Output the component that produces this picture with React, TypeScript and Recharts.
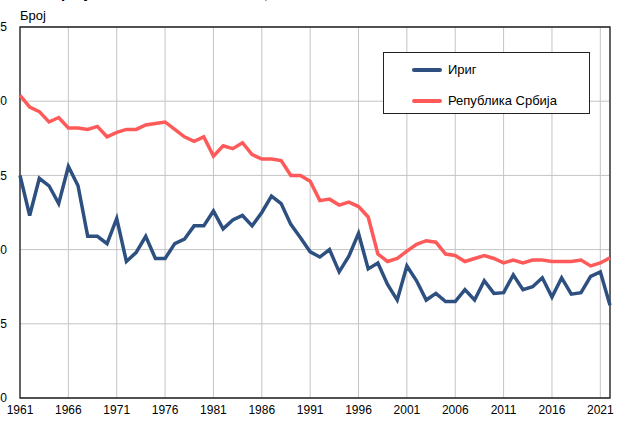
import React from 'react';
import { LineChart, Line, XAxis, YAxis, CartesianGrid, ReferenceArea } from 'recharts';

// years 1961-2022
const years = [
  1961, 1962, 1963, 1964, 1965, 1966, 1967, 1968, 1969, 1970,
  1971, 1972, 1973, 1974, 1975, 1976, 1977, 1978, 1979, 1980,
  1981, 1982, 1983, 1984, 1985, 1986, 1987, 1988, 1989, 1990,
  1991, 1992, 1993, 1994, 1995, 1996, 1997, 1998, 1999, 2000,
  2001, 2002, 2003, 2004, 2005, 2006, 2007, 2008, 2009, 2010,
  2011, 2012, 2013, 2014, 2015, 2016, 2017, 2018, 2019, 2020,
  2021, 2022,
];

const irig = [
  15.0, 12.3, 14.8, 14.3, 13.1, 15.6, 14.3, 10.9, 10.9, 10.4,
  12.1, 9.2, 9.8, 10.9, 9.4, 9.4, 10.4, 10.7, 11.6, 11.6,
  12.6, 11.4, 12.0, 12.3, 11.6, 12.5, 13.6, 13.1, 11.7, 10.8,
  9.85, 9.5, 10.0, 8.5, 9.55, 11.1, 8.7, 9.1, 7.65, 6.6,
  8.9, 7.9, 6.6, 7.05, 6.5, 6.5, 7.3, 6.6, 7.9, 7.05,
  7.1, 8.3, 7.3, 7.5, 8.1, 6.8, 8.1, 7.0, 7.1, 8.2,
  8.5, 6.25,
];

const srbija = [
  20.4, 19.6, 19.3, 18.6, 18.9, 18.2, 18.2, 18.1, 18.3, 17.6,
  17.9, 18.1, 18.1, 18.4, 18.5, 18.6, 18.1, 17.6, 17.3, 17.6,
  16.3, 17.0, 16.8, 17.2, 16.4, 16.1, 16.1, 16.0, 15.0, 15.0,
  14.6, 13.3, 13.4, 13.0, 13.2, 12.9, 12.2, 9.7, 9.2, 9.4,
  9.9, 10.35, 10.6, 10.5, 9.7, 9.6, 9.2, 9.4, 9.6, 9.4,
  9.1, 9.3, 9.1, 9.3, 9.3, 9.2, 9.2, 9.2, 9.3, 8.9,
  9.1, 9.45,
];

const xTicks = [1961, 1966, 1971, 1976, 1981, 1986, 1991, 1996, 2001, 2006, 2011, 2016, 2021];
const yTicks = [0, 5, 10, 15, 20, 25];

const series = [
  { key: 'irig', name: 'Ириг', color: '#2d5080' },
  { key: 'srbija', name: 'Република Србија', color: '#ff5a5a' },
];

const data = years.map((year, i) => ({ year, irig: irig[i], srbija: srbija[i] }));

const font = 'Arial, "Liberation Sans", sans-serif';

export default function App() {
  return (
    <div
      style={{
        position: 'absolute',
        left: 0,
        top: 0,
        width: 617,
        height: 421,
        overflow: 'hidden',
        background: '#fff',
        fontFamily: font,
      }}
    >
      {/* title, cut off at the top of the picture */}
      <div
        style={{
          position: 'absolute',
          left: 20,
          top: -15,
          fontSize: 15,
          lineHeight: '15px',
          fontWeight: 'bold',
          whiteSpace: 'nowrap',
        }}
      >
        Живорођени на 1000 становника, 1961–2022.
      </div>
      <div style={{ position: 'absolute', left: 20, top: 8, fontSize: 13, color: '#000' }}>Број</div>

      <LineChart
        width={617}
        height={421}
        data={data}
        margin={{ top: 27, right: 7, bottom: 0, left: 0 }}
        style={{ position: 'absolute', left: 0, top: 0 }}
      >
        <CartesianGrid stroke="#c4c4c4" strokeWidth={1} />
        <XAxis
          dataKey="year"
          type="number"
          domain={[1961, 2022]}
          ticks={xTicks}
          height={23}
          tickLine={false}
          tickSize={0}
          tickMargin={7}
          axisLine={false}
          tick={{ fill: '#000', fontSize: 12, fontFamily: font }}
        />
        <YAxis
          domain={[0, 25]}
          ticks={yTicks}
          width={20}
          tickLine={false}
          tickSize={0}
          tickMargin={13}
          axisLine={false}
          tick={{ fill: '#000', fontSize: 12, fontFamily: font }}
        />
        <ReferenceArea x1={1961} x2={2022} y1={0} y2={25} fill="none" stroke="#222" strokeWidth={1.3} />
        {series.map((s) => (
          <Line
            key={s.key}
            dataKey={s.key}
            name={s.name}
            stroke={s.color}
            strokeWidth={3.5}
            dot={false}
            type="linear"
            isAnimationActive={false}
          />
        ))}
      </LineChart>

      {/* legend box */}
      <div
        style={{
          position: 'absolute',
          left: 383,
          top: 52,
          width: 205,
          height: 60,
          border: '1px solid #222',
          background: '#fff',
          fontSize: 13,
        }}
      >
        {series.map((s, i) => (
          <div
            key={s.key}
            style={{ position: 'absolute', left: 28, top: 8 + i * 31, display: 'flex', alignItems: 'center', height: 17 }}
          >
            <span style={{ display: 'inline-block', width: 30, height: 4, borderRadius: 2, background: s.color, marginRight: 6 }} />
            <span>{s.name}</span>
          </div>
        ))}
      </div>
    </div>
  );
}
